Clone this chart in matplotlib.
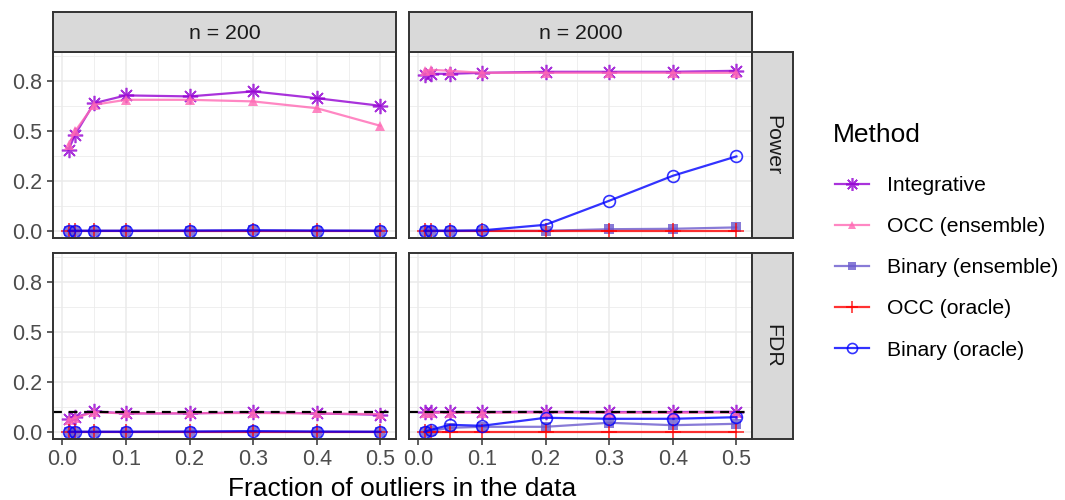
import matplotlib
matplotlib.use('Agg')
import matplotlib.pyplot as plt
from matplotlib.lines import Line2D
from matplotlib.ticker import FixedLocator

plt.rcParams['font.family'] = ['Liberation Sans', 'DejaVu Sans']

# fraction of outliers in the data
frac = [0.01, 0.02, 0.05, 0.1, 0.2, 0.3, 0.4, 0.5]

methods = ['Integrative', 'OCC (ensemble)', 'Binary (ensemble)',
           'OCC (oracle)', 'Binary (oracle)']
sizes = ['n = 200', 'n = 2000']
metrics = ['Power', 'FDR']

# power, n = 200
pow200_integ = [0.405, 0.48, 0.638, 0.677, 0.672, 0.697, 0.663, 0.625]
pow200_occ_ens = [0.43, 0.497, 0.63, 0.655, 0.655, 0.647, 0.613, 0.525]
pow200_bin_ens = [0.0, 0.0, 0.0, 0.0, 0.0, 0.002, 0.0, 0.0]
pow200_occ_orc = [0.0, 0.0, 0.0, 0.0, 0.0, 0.0, 0.0, 0.0]
pow200_bin_orc = [0.0, 0.0, 0.0, 0.0, 0.001, 0.002, 0.001, 0.0]

# power, n = 2000
pow2000_integ = [0.78, 0.785, 0.785, 0.79, 0.795, 0.795, 0.795, 0.80]
pow2000_occ_ens = [0.80, 0.805, 0.80, 0.79, 0.79, 0.79, 0.79, 0.79]
pow2000_bin_ens = [0.0, 0.0, 0.0, 0.0, 0.0, 0.008, 0.01, 0.017]
pow2000_occ_orc = [0.0, 0.0, 0.0, 0.0, 0.0, 0.0, 0.0, 0.0]
pow2000_bin_orc = [0.0, 0.0, 0.0, 0.002, 0.03, 0.15, 0.275, 0.372]

# FDR, n = 200
fdr200_integ = [0.063, 0.072, 0.102, 0.092, 0.092, 0.098, 0.092, 0.085]
fdr200_occ_ens = [0.06, 0.07, 0.098, 0.092, 0.093, 0.094, 0.092, 0.088]
fdr200_bin_ens = [0.0, 0.0, 0.0, 0.0, 0.0, 0.002, 0.0, 0.0]
fdr200_occ_orc = [0.0, 0.0, 0.0, 0.0, 0.0, 0.0, 0.0, 0.0]
fdr200_bin_orc = [0.0, 0.0, 0.0, 0.0, 0.001, 0.003, 0.001, 0.0]

# FDR, n = 2000
fdr2000_integ = [0.098, 0.1, 0.099, 0.099, 0.1, 0.099, 0.099, 0.1]
fdr2000_occ_ens = [0.095, 0.096, 0.095, 0.095, 0.096, 0.095, 0.095, 0.096]
fdr2000_bin_ens = [0.0, 0.005, 0.02, 0.025, 0.025, 0.045, 0.033, 0.04]
fdr2000_occ_orc = [0.0, 0.0, 0.0, 0.0, 0.0, 0.0, 0.0, 0.0]
fdr2000_bin_orc = [0.0, 0.01, 0.035, 0.03, 0.07, 0.065, 0.065, 0.073]

nominal_fdr = 0.1

results = {
    ('Power', 'n = 200'): [pow200_integ, pow200_occ_ens, pow200_bin_ens, pow200_occ_orc, pow200_bin_orc],
    ('Power', 'n = 2000'): [pow2000_integ, pow2000_occ_ens, pow2000_bin_ens, pow2000_occ_orc, pow2000_bin_orc],
    ('FDR', 'n = 200'): [fdr200_integ, fdr200_occ_ens, fdr200_bin_ens, fdr200_occ_orc, fdr200_bin_orc],
    ('FDR', 'n = 2000'): [fdr2000_integ, fdr2000_occ_ens, fdr2000_bin_ens, fdr2000_occ_orc, fdr2000_bin_orc],
}

styles = {
    'Integrative': dict(color='#9400D3', marker=(8, 2, 0), ms=11, mfc='#9400D3', mew=1.2),
    'OCC (ensemble)': dict(color='#FF69B4', marker='^', ms=7.5, mfc='#FF69B4', mew=0),
    'Binary (ensemble)': dict(color='#6A5ACD', marker='s', ms=7, mfc='#6A5ACD', mew=0),
    'OCC (oracle)': dict(color='#FF0000', marker='+', ms=11, mfc='#FF0000', mew=1.2),
    'Binary (oracle)': dict(color='#0000FF', marker='o', ms=8.5, mfc='none', mew=1.2),
}

W, H = 1065, 500
fig = plt.figure(figsize=(W / 100, H / 100), dpi=100)


def px_axes(x0, y0, x1, y1):
    return fig.add_axes([x0 / W, 1 - y1 / H, (x1 - x0) / W, (y1 - y0) / H])


col_x = [(53, 396), (409, 752)]
row_y = [(52, 238), (253, 439)]
border = '#333333'

for r, metric in enumerate(metrics):
    for c, size in enumerate(sizes):
        ax = px_axes(col_x[c][0], row_y[r][0], col_x[c][1], row_y[r][1])
        ax.set_xlim(-0.0145, 0.5245)
        ax.set_ylim(-0.036, 0.894)
        ax.xaxis.set_major_locator(FixedLocator([0, 0.1, 0.2, 0.3, 0.4, 0.5]))
        ax.xaxis.set_minor_locator(FixedLocator([0.05, 0.15, 0.25, 0.35, 0.45]))
        ax.yaxis.set_major_locator(FixedLocator([0, 0.25, 0.5, 0.75]))
        ax.yaxis.set_minor_locator(FixedLocator([0.125, 0.375, 0.625, 0.875]))
        ax.grid(which='major', color='#EBEBEB', lw=1.1)
        ax.grid(which='minor', color='#EBEBEB', lw=0.55)
        ax.set_axisbelow(True)
        for sp in ax.spines.values():
            sp.set_color(border)
            sp.set_linewidth(1.4)
            sp.set_zorder(10)
        ax.tick_params(which='minor', length=0)
        ax.tick_params(which='major', length=4, width=1.1, color=border,
                       labelsize=15.5, labelcolor='#4D4D4D', pad=3.5)
        if c == 0:
            ax.set_yticklabels(['0.0', '0.2', '0.5', '0.8'])
        else:
            ax.tick_params(axis='y', length=0, labelleft=False)
        if r == 1:
            ax.set_xticklabels(['0.0', '0.1', '0.2', '0.3', '0.4', '0.5'])
        else:
            ax.tick_params(axis='x', length=0, labelbottom=False)

        for m, vals in zip(methods, results[(metric, size)]):
            st = styles[m]
            ax.plot(frac, vals, color=st['color'], lw=1.6, alpha=0.8,
                    marker=st['marker'], ms=st['ms'], mfc=st['mfc'],
                    mec=st['color'], mew=st['mew'], clip_on=False, zorder=3)
        if metric == 'FDR':
            ax.axhline(nominal_fdr, color='black', lw=1.6, ls=(0, (4, 3)), zorder=4)

# facet strips
for c, size in enumerate(sizes):
    sax = px_axes(col_x[c][0], 12, col_x[c][1], 52)
    sax.set_facecolor('#D9D9D9')
    sax.set_xticks([])
    sax.set_yticks([])
    for sp in sax.spines.values():
        sp.set_color(border)
        sp.set_linewidth(1.4)
    sax.text(0.5, 0.47, size, ha='center', va='center', fontsize=15.3,
             color='#1A1A1A', transform=sax.transAxes)

for r, metric in enumerate(metrics):
    sax = px_axes(752, row_y[r][0], 793, row_y[r][1])
    sax.set_facecolor('#D9D9D9')
    sax.set_xticks([])
    sax.set_yticks([])
    for sp in sax.spines.values():
        sp.set_color(border)
        sp.set_linewidth(1.4)
    sax.text(0.5, 0.5, metric, ha='center', va='center', fontsize=15.3,
             color='#1A1A1A', rotation=-90, transform=sax.transAxes)

fig.text(402.5 / W, 1 - 489 / H, 'Fraction of outliers in the data',
         ha='center', va='center', fontsize=19, color='black')

# legend
fig.text(833 / W, 1 - 135 / H, 'Method', ha='left', va='center',
         fontsize=19, color='black')
handles = []
for m in methods:
    st = styles[m]
    handles.append(Line2D([], [], color=st['color'], lw=1.6, alpha=0.8,
                          marker=st['marker'], ms=st['ms'] * 0.85, mfc=st['mfc'],
                          mec=st['color'], mew=st['mew']))
leg = fig.legend(handles, methods, loc='upper left',
                 bbox_to_anchor=(816 / W, 1 - 157 / H), frameon=False,
                 fontsize=15.2, handlelength=1.6, handletextpad=0.85,
                 labelspacing=1.05)

fig.savefig('out.png', dpi=100)
